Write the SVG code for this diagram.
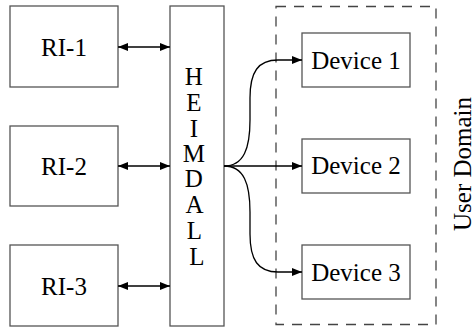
<svg xmlns="http://www.w3.org/2000/svg" width="475" height="329" viewBox="0 0 475 329">
  <defs>
    <marker id="tip" viewBox="0 0 10 8" refX="10" refY="4" markerWidth="10" markerHeight="8" markerUnits="userSpaceOnUse" orient="auto-start-reverse">
      <path d="M0,0 L10,4 L0,8 Z" fill="#000"/>
    </marker>
    <style>
      .box { fill: #fff; stroke: #555; stroke-width: 1.3; }
      .lbl { font-family: "Liberation Serif", "Times New Roman", serif; font-size: 25px; fill: #000; text-anchor: middle; }
      .wire { fill: none; stroke: #000; stroke-width: 1.3; }
      .domain { fill: none; stroke: #444; stroke-width: 1.3; stroke-dasharray: 10 8; }
    </style>
  </defs>

  <!-- user domain boundary -->
  <g id="user-domain">
    <rect class="domain" x="276" y="6.5" width="160" height="318"/>
    <text class="lbl" transform="translate(471,164) rotate(-90)">User Domain</text>
  </g>

  <g id="ri-1">
    <rect class="box" x="10" y="6" width="108" height="81"/>
    <text class="lbl" x="64" y="56">RI-1</text>
  </g>
  <g id="ri-2">
    <rect class="box" x="10" y="126" width="108" height="80"/>
    <text class="lbl" x="64" y="175">RI-2</text>
  </g>
  <g id="ri-3">
    <rect class="box" x="10" y="245" width="108" height="81"/>
    <text class="lbl" x="64" y="295">RI-3</text>
  </g>

  <g id="heimdall">
    <rect class="box" x="170" y="6" width="54" height="320"/>
    <text class="lbl" x="197">
      <tspan x="197" y="85">H</tspan>
      <tspan x="197" y="111">E</tspan>
      <tspan x="197" y="137">I</tspan>
      <tspan x="197" y="162">M</tspan>
      <tspan x="197" y="187">D</tspan>
      <tspan x="197" y="213">A</tspan>
      <tspan x="197" y="239">L</tspan>
      <tspan x="197" y="265">L</tspan>
    </text>
  </g>

  <g id="device-1">
    <rect class="box" x="302" y="33" width="108" height="54"/>
    <text class="lbl" x="356" y="69">Device 1</text>
  </g>
  <g id="device-2">
    <rect class="box" x="302" y="139" width="108" height="54"/>
    <text class="lbl" x="356" y="174">Device 2</text>
  </g>
  <g id="device-3">
    <rect class="box" x="302" y="245" width="108" height="54"/>
    <text class="lbl" x="356" y="281">Device 3</text>
  </g>

  <g id="connectors">
    <line class="wire" x1="118" y1="47" x2="170" y2="47" marker-start="url(#tip)" marker-end="url(#tip)"/>
    <line class="wire" x1="118" y1="166" x2="170" y2="166" marker-start="url(#tip)" marker-end="url(#tip)"/>
    <line class="wire" x1="118" y1="286" x2="170" y2="286" marker-start="url(#tip)" marker-end="url(#tip)"/>
    <path class="wire" d="M224,166 C244,166 250,148 250,120 L250,98 C250,72 258,60 278,60 L302,60" marker-end="url(#tip)"/>
    <line class="wire" x1="224" y1="166" x2="302" y2="166" marker-end="url(#tip)"/>
    <path class="wire" d="M224,166 C244,166 250,184 250,212 L250,234 C250,260 258,272 278,272 L302,272" marker-end="url(#tip)"/>
  </g>
</svg>
